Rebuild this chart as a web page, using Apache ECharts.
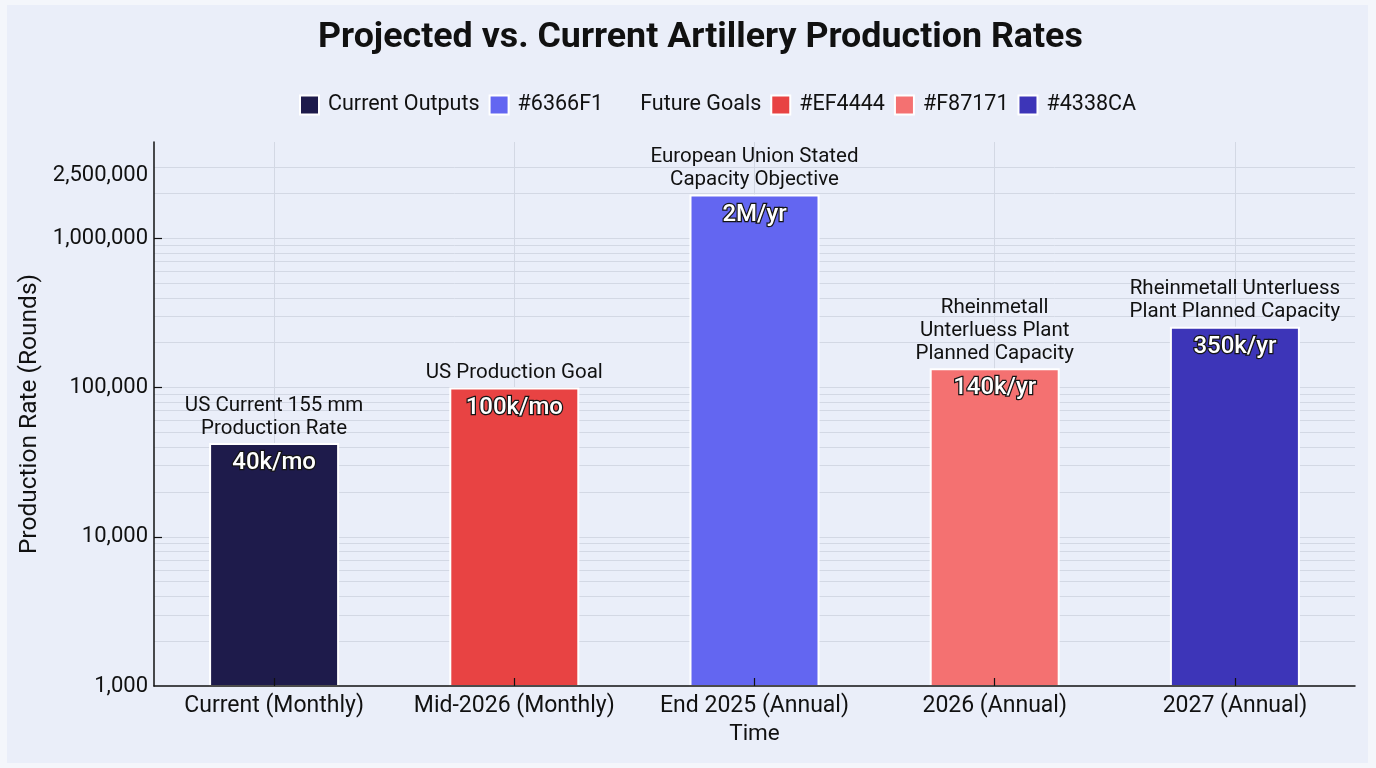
<!DOCTYPE html>
<html>
<head>
<meta charset="utf-8">
<script src="https://cdn.jsdelivr.net/npm/echarts@6/dist/echarts.min.js"></script>
<style>
  html, body { margin: 0; padding: 0; background: #F4F6FB; }
  #chart { position: absolute; left: 7px; top: 5px; width: 1361px; height: 758px; background: #EAEEF9; }
</style>
</head>
<body>
<div id="chart"></div>
<script>
// ---- data ----
const categories = ['Current (Monthly)', 'Mid-2026 (Monthly)', 'End 2025 (Annual)', '2026 (Annual)', '2027 (Annual)'];
const values = [42600, 100000, 1970000, 134600, 256000];
const valueLabels = ['40k/mo', '100k/mo', '2M/yr', '140k/yr', '350k/yr'];
const annotations = [
  'US Current 155 mm\nProduction Rate',
  'US Production Goal',
  'European Union Stated\nCapacity Objective',
  'Rheinmetall\nUnterluess Plant\nPlanned Capacity',
  'Rheinmetall Unterluess\nPlant Planned Capacity'
];
const seriesNames = ['Current Outputs', '#EF4444', '#6366F1', '#F87171', '#4338CA'];
const barColors = ['#1E1B4B', '#E84343', '#6366F1', '#F47171', '#3D35B8'];
const legendOrder = ['Current Outputs', '#6366F1', 'Future Goals', '#EF4444', '#F87171', '#4338CA'];
const yLabelValues = [1000, 10000, 100000, 1000000, 2500000];
const yTickValues = [10000, 100000, 1000000];
const yGridValues = [
  2000, 3000, 4000, 5000, 6000, 7000, 8000, 9000, 10000,
  20000, 30000, 40000, 50000, 60000, 70000, 80000, 90000, 100000,
  200000, 300000, 400000, 500000, 600000, 700000, 800000, 900000, 1000000,
  2000000, 3000000
];

// ---- build ----
const chart = echarts.init(document.getElementById('chart'));
const font = 'Roboto, "Noto Sans", sans-serif';
const grid = { left: 147, right: 13, top: 137, bottom: 77 };

const barSeries = seriesNames.map((name, i) => ({
  name: name,
  type: 'bar',
  z: 3,
  barWidth: 130,
  barGap: '-100%',
  data: values.map((v, j) => (j === i ? v : null)),
  itemStyle: { color: barColors[i], borderColor: '#FFFFFF', borderWidth: 2 },
  label: {
    show: true,
    position: 'insideTop',
    distance: 8,
    formatter: p => valueLabels[p.dataIndex],
    color: '#FFFFFF',
    fontFamily: font,
    fontSize: 24,
    fontWeight: 500,
    textBorderColor: '#151515',
    textBorderWidth: 2.5
  }
}));

const option = {
  backgroundColor: 'transparent',
  animation: false,
  textStyle: { fontFamily: font },
  title: {
    text: 'Projected vs. Current Artillery Production Rates',
    left: 306,
    top: 10,
    textStyle: { fontFamily: font, fontSize: 35.8, fontWeight: 'bold', color: '#111111' }
  },
  legend: {
    top: 84,
    left: 287,
    icon: 'rect',
    itemWidth: 19,
    itemHeight: 19,
    itemGap: 9,
    textStyle: { fontFamily: font, fontSize: 21.5, color: '#111111', padding: [0, 0, 0, 4] },
    data: legendOrder.map(n => n === 'Future Goals' ? { name: n, itemStyle: { opacity: 0 } } : n)
  },
  grid: grid,
  xAxis: {
    type: 'category',
    z: 6,
    data: categories,
    name: 'Time',
    nameLocation: 'middle',
    nameGap: 37,
    nameTextStyle: { fontFamily: font, fontSize: 22.5, color: '#111111' },
    axisLine: { lineStyle: { color: '#111111', width: 1.5 } },
    axisTick: { show: true, inside: true, alignWithLabel: true, length: 8, lineStyle: { color: '#111111', width: 1.2 } },
    axisLabel: { interval: 0, fontFamily: font, fontSize: 23, color: '#111111', margin: 9 },
    splitLine: { show: false }
  },
  yAxis: {
    type: 'log',
    z: 6,
    logBase: 10,
    min: 1000,
    max: 4430000,
    name: 'Production Rate (Rounds)',
    nameLocation: 'middle',
    nameRotate: 90,
    nameGap: 106,
    nameTextStyle: { fontFamily: font, fontSize: 24.5, color: '#111111' },
    axisLine: { show: true, lineStyle: { color: '#111111', width: 1.5 } },
    axisTick: { show: true, inside: true, length: 8, customValues: yTickValues, lineStyle: { color: '#111111', width: 1.2 } },
    axisLabel: {
      customValues: yLabelValues,
      formatter: v => (v === 2500000 ? '{up|' + Number(v).toLocaleString('en-US') + '}' : Number(v).toLocaleString('en-US')),
      rich: { up: { fontFamily: font, fontSize: 22, color: '#111111', padding: [0, 0, 8, 0] } },
      fontFamily: font, fontSize: 22, color: '#111111', margin: 6
    },
    splitLine: { show: false }
  },
  series: [
    {
      name: 'gridlines',
      type: 'line',
      z: 1,
      data: [],
      markLine: {
        silent: true,
        z: 0,
        symbol: ['none', 'none'],
        label: { show: false },
        lineStyle: { color: '#D3D8E4', width: 1, type: 'solid' },
        data: yGridValues.map(v => ({ yAxis: v })).concat(categories.map(c => ({ xAxis: c })))
      }
    },
    {
      name: 'Future Goals',
      type: 'bar',
      barWidth: 130,
      barGap: '-100%',
      data: [],
      itemStyle: { color: 'rgba(0,0,0,0)' }
    },
    ...barSeries,
    {
      name: 'annotations',
      type: 'bar',
      z: 4,
      barWidth: 130,
      barGap: '-100%',
      data: values,
      itemStyle: { color: 'rgba(0,0,0,0)' },
      label: {
        show: true,
        position: 'top',
        distance: 3,
        formatter: p => annotations[p.dataIndex],
        color: '#111111',
        fontFamily: font,
        fontSize: 20.5,
        lineHeight: 23
      }
    }
  ]
};
chart.setOption(option);
</script>
</body>
</html>
